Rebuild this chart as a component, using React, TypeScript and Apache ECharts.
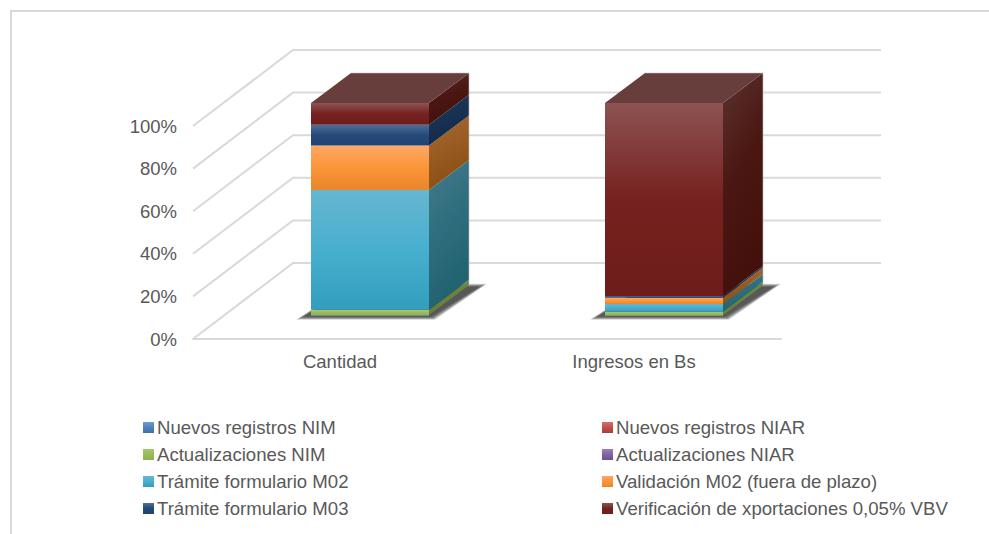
import React, { useEffect, useRef } from "react";
import * as echarts from "echarts";

const categories = ["Cantidad", "Ingresos en Bs"];
const tickValues = [0, 20, 40, 60, 80, 100];

const seriesNames = [
  "Nuevos registros NIM",
  "Nuevos registros NIAR",
  "Actualizaciones NIM",
  "Actualizaciones NIAR",
  "Trámite formulario M02",
  "Validación M02 (fuera de plazo)",
  "Trámite formulario M03",
  "Verificación de xportaciones 0,05% VBV",
];
const nuevosNim = [0.3, 0.2];
const nuevosNiar = [0.05, 0.02];
const actualizacionesNim = [2.5, 1.8];
const actualizacionesNiar = [0.05, 0.02];
const tramiteM02 = [56.3, 3.6];
const validacionM02 = [20.8, 2.9];
const tramiteM03 = [9.8, 0.8];
const verificacion = [10.2, 90.66];
const seriesValues = [nuevosNim, nuevosNiar, actualizacionesNim, actualizacionesNiar, tramiteM02, validacionM02, tramiteM03, verificacion];

// [highlight, base, shade] for the front face, [top, middle, bottom] for the side face
const frontColors = [
  ["#6f9bd3", "#4f81bd", "#3f6fa8"],
  ["#d96f6c", "#c0504d", "#a63f3c"],
  ["#a9c76a", "#9bbb59", "#8fb14c"],
  ["#9b83b8", "#8064a2", "#6c528c"],
  ["#66b6d1", "#47b0cf", "#339dbd"],
  ["#ffa768", "#fb9637", "#e9862b"],
  ["#4d6f97", "#24497a", "#1f4472"],
  ["#8d5352", "#75211f", "#6e1d1a"],
];
const sideColors = [
  ["#3b5f8c", "#335578", "#2c4a70"],
  ["#8e3b39", "#7f3431", "#702c2a"],
  ["#748b40", "#6d833a", "#667c35"],
  ["#5f4a79", "#56426d", "#4c3a61"],
  ["#437b8c", "#2f6e7e", "#21626f"],
  ["#a96a33", "#995c23", "#8a4f14"],
  ["#1e3a5c", "#193252", "#132a48"],
  ["#5b3330", "#4b1712", "#44100c"],
];
const topColor = "#683e3d";
const shadowLayers = [8, 7, 6, 5, 4, 3, 2, 1, 0];

const GRID = { left: 193, right: 208, top: 126, bottom: 195 };
const WALL = [100, -76];
const BAR = { shiftX: 30, shiftY: -23, half: 59, dx: 40, dy: -30 };

function gradient(stops: string[], x2: number) {
  return {
    type: "linear", x: 0, y: 0, x2, y2: 1,
    colorStops: stops.map((color, i) => ({ offset: i / (stops.length - 1), color })),
  };
}

export default function App() {
  const ref = useRef<HTMLDivElement>(null);
  useEffect(() => {
    const chart = echarts.init(ref.current!, null, { renderer: "svg" });

    const wallSeries: any = {
      type: "custom",
      silent: true,
      z: 1,
      data: tickValues.map((v) => [0, v]),
      encode: { x: 0, y: 1 },
      renderItem: (_p: any, api: any) => {
        const a = api.coord([0, api.value(1)]);
        const right = api.coord([1, api.value(1)]);
        const step = right[0] - a[0];
        const left = a[0] - step / 2;
        const end = right[0] + step / 2;
        return {
          type: "polyline",
          shape: { points: [[left, a[1]], [left + WALL[0], a[1] + WALL[1]], [end + WALL[0], a[1] + WALL[1]]] },
          style: { stroke: "#d9d9d9", lineWidth: 2, fill: null },
        };
      },
    };

    const shadowSeries: any = {
      type: "custom",
      silent: true,
      z: 2,
      data: categories.map((_, i) => [i, 0]),
      encode: { x: 0, y: 1 },
      renderItem: (_p: any, api: any) => {
        const c = api.coord([api.value(0), 0]);
        const x = c[0] + BAR.shiftX;
        const y = c[1] + BAR.shiftY;
        return {
          type: "group",
          children: shadowLayers.map((k) => ({
            type: "polygon",
            shape: {
              points: [
                [x - BAR.half - 7 - k, y + 0.5 + k * 0.4],
                [x + BAR.half + 2 + k * 0.5, y + 0.5 + k * 0.4],
                [x + BAR.half + 50 + k, y + BAR.dy + 1 - k * 0.4],
                [x - BAR.half + 40, y + BAR.dy + 1 - k * 0.4],
              ],
            },
            style: { fill: "rgba(40,40,40,0.15)" },
          })),
        };
      },
    };

    const barSeries = seriesNames.map((name, s) => {
      const rows = categories.map((_, c) => {
        let start = 0;
        for (let k = 0; k < s; k++) start += seriesValues[k][c];
        return [c, start, start + seriesValues[s][c]];
      });
      return {
        type: "custom",
        name,
        z: 3,
        silent: true,
        itemStyle: { color: gradient(frontColors[s], 0) },
        data: rows,
        encode: { x: 0, y: [1, 2] },
        renderItem: (_p: any, api: any) => {
          const low = api.coord([api.value(0), api.value(1)]);
          const high = api.coord([api.value(0), api.value(2)]);
          const base = api.coord([api.value(0), 0]);
          const x0 = low[0] + BAR.shiftX - BAR.half;
          const x1 = low[0] + BAR.shiftX + BAR.half;
          const y0 = low[1] + BAR.shiftY;
          const y1 = high[1] + BAR.shiftY;
          const children: any[] = [
            {
              type: "polygon",
              shape: { points: [[x1, y0], [x1 + BAR.dx, y0 + BAR.dy], [x1 + BAR.dx, y1 + BAR.dy], [x1, y1]] },
              style: { fill: gradient(sideColors[s], 0.3) },
            },
            {
              type: "rect",
              shape: { x: x0, y: y1, width: x1 - x0, height: y0 - y1 },
              style: { fill: gradient(frontColors[s], 0) },
            },
          ];
          if (s === seriesNames.length - 1) {
            children.push({
              type: "polygon",
              shape: { points: [[x0, y1], [x1, y1], [x1 + BAR.dx, y1 + BAR.dy], [x0 + BAR.dx, y1 + BAR.dy]] },
              style: { fill: topColor },
            });
            children.push({
              type: "polyline",
              shape: { points: [[x1 + BAR.dx, base[1] + BAR.shiftY + BAR.dy], [x1 + BAR.dx, y1 + BAR.dy], [x0 + BAR.dx, y1 + BAR.dy]] },
              style: { stroke: "rgba(190,190,190,0.6)", lineWidth: 1, fill: null },
            });
          }
          return { type: "group", children };
        },
      };
    });

    const legendBase = {
      orient: "vertical",
      itemWidth: 11,
      itemHeight: 11,
      itemGap: 6,
      icon: "rect",
      padding: 0,
      selectedMode: false,
      textStyle: { color: "#595959", fontFamily: "Liberation Sans", fontSize: 18.6, lineHeight: 21, padding: [0, 0, 0, -2] },
    };

    chart.setOption({
      animation: false,
      backgroundColor: "#ffffff",
      textStyle: { fontFamily: "Liberation Sans" },
      grid: GRID,
      xAxis: {
        type: "category",
        data: categories,
        axisTick: { show: false },
        axisLine: { lineStyle: { color: "#d9d9d9", width: 2 } },
        axisLabel: { color: "#595959", fontSize: 18.5, margin: 13, fontFamily: "Liberation Sans" },
      },
      yAxis: {
        type: "value",
        min: 0,
        max: 100,
        interval: 20,
        axisLine: { show: false },
        axisTick: { show: false },
        splitLine: { show: false },
        axisLabel: { color: "#595959", fontSize: 18.5, margin: 16, formatter: "{value}%", fontFamily: "Liberation Sans" },
      },
      legend: [
        { ...legendBase, left: 143, top: 417, data: seriesNames.filter((_, i) => i % 2 === 0) },
        { ...legendBase, left: 602, top: 417, data: seriesNames.filter((_, i) => i % 2 === 1) },
      ],
      graphic: [
        {
          type: "polyline",
          silent: true,
          shape: { points: [[11, 534], [11, 11], [989, 11]] },
          style: { stroke: "#d9d9d9", lineWidth: 2, fill: null },
        },
      ],
      series: [wallSeries, shadowSeries, ...barSeries],
    });
    return () => chart.dispose();
  }, []);
  return <div ref={ref} style={{ position: "absolute", left: 0, top: 0, width: 989, height: 534 }} />;
}
